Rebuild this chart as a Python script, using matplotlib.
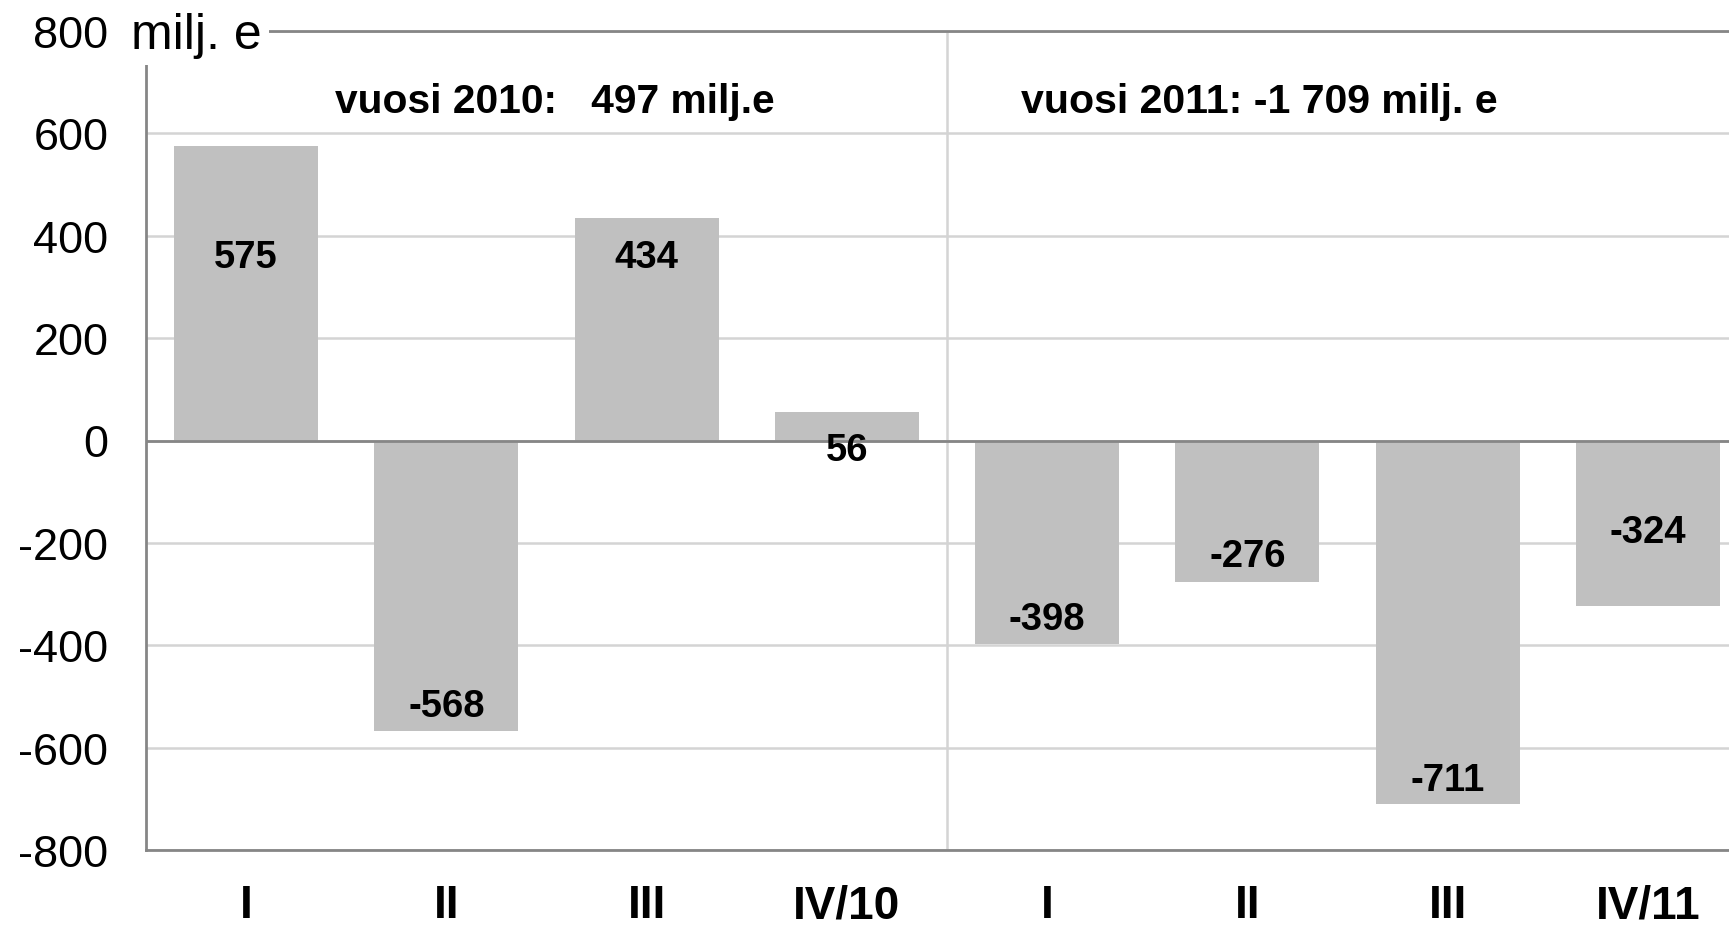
"""Quarterly balance bar chart, 2010-2011 (milj. e)."""

import matplotlib
matplotlib.use("Agg")
import matplotlib.pyplot as plt

plt.rcParams["font.family"] = ["Liberation Sans", "DejaVu Sans"]

# Data
categories = ["I", "II", "III", "IV/10", "I", "II", "III", "IV/11"]
values = [575, -568, 434, 56, -398, -276, -711, -324]
# where each value label sits (data units), as placed in the original
label_y = [358, -519, 358, -19, -348, -226, -663, -178]
yticks = [-800, -600, -400, -200, 0, 200, 400, 600, 800]
year_notes = ["vuosi 2010:   497 milj.e", "vuosi 2011: -1 709 milj. e"]
unit_label = "milj. e"

BAR = "#c0c0c0"
DARK = "#868686"
LIGHT = "#d4d4d4"

W, H = 1729, 929
fig = plt.figure(figsize=(W / 100, H / 100), dpi=100)
# plot area runs past the right edge of the picture, like the original crop
ax = fig.add_axes([146 / W, 1 - 851 / H, 1602 / W, (851 - 32) / H])

x = list(range(len(categories)))
ax.bar(x, values, width=0.72, color=BAR, zorder=2)
ax.axhline(0, color=DARK, lw=2, zorder=2.5)
ax.axvline(3.5, color=LIGHT, lw=1.8, zorder=1)

for xi, v, ly in zip(x, values, label_y):
    ax.text(xi, ly, str(v), ha="center", va="center", fontsize=27.5,
            fontweight="bold", zorder=4)

ax.text(0.445, 663, year_notes[0], ha="left", va="center", fontsize=29.3,
        fontweight="bold")
ax.text(3.870, 663, year_notes[1], ha="left", va="center", fontsize=29.6,
        fontweight="bold")

ax.set_xlim(-0.5, len(categories) - 0.5)
ax.set_ylim(yticks[0], yticks[-1])
ax.set_yticks(yticks)
ax.set_yticklabels([str(t) for t in yticks])
ax.set_xticks(x)
ax.set_xticklabels(categories, fontweight="bold")
ax.tick_params(axis="y", length=0, pad=27, labelsize=32.5)
ax.tick_params(axis="x", length=0, pad=24, labelsize=33)

ax.yaxis.grid(True, color=LIGHT, lw=1.8, zorder=0)
ax.set_axisbelow(True)

for side in ("left", "bottom", "top"):
    ax.spines[side].set_color(DARK)
    ax.spines[side].set_linewidth(2)
ax.spines["right"].set_visible(False)

# unit label sitting on top of the 800 line, with a white box hiding the frame
fig.text(131 / W, 1 - 49 / H, unit_label, ha="left", va="baseline",
         fontsize=36, zorder=5,
         bbox=dict(facecolor="white", edgecolor="none", pad=5))

fig.savefig("out.png", dpi=100)
